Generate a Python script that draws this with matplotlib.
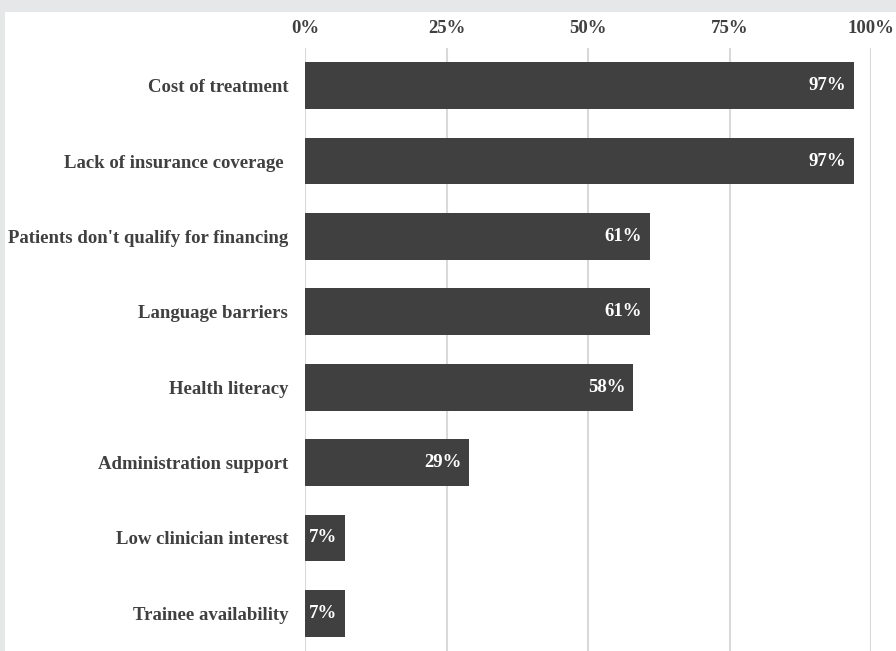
import matplotlib
matplotlib.use("Agg")
import matplotlib.pyplot as plt
from matplotlib.patches import Rectangle

categories = ["Cost of treatment", "Lack of insurance coverage ", "Patients don't qualify for financing",
              "Language barriers", "Health literacy", "Administration support",
              "Low clinician interest", "Trainee availability"]
values = [97, 97, 61, 61, 58, 29, 7, 7]
ticks = [0, 25, 50, 75, 100]
tick_labels = ["0%", "25%", "50%", "75%", "100%"]

plt.rcParams['font.family'] = ['Liberation Serif', 'DejaVu Serif']
W, H = 896, 651
fig = plt.figure(figsize=(W/100, H/100), dpi=100)
fig.patch.set_facecolor('#e6e7e9')
fig.patches.append(Rectangle((5/W, 0), 1 - 5/W, 1 - 12/H, transform=fig.transFigure,
                             facecolor='white', edgecolor='none', zorder=-10))

FS = 13.5
ax = fig.add_axes([305/W, 0, (871-305)/W, 1 - 48/H])
ax.set_facecolor('none')
y = list(range(len(categories)))
ax.barh(y, values, height=0.62, color='#404040', zorder=3)
for yi, v in zip(y, values):
    ax.text(v - 1.4, yi, f"{v}%", ha='right', va='center', color='white',
            fontsize=FS, fontweight='bold', zorder=4)
ax.set_ylim(len(categories) - 0.5, -0.5)
ax.set_xlim(0, 100)
ax.set_yticks(y)
ax.set_yticklabels(categories, fontsize=FS, fontweight='bold', color='#404040')
ax.set_xticks(ticks)
ax.set_xticklabels(tick_labels, fontsize=FS, fontweight='bold', color='#404040')
ax.xaxis.tick_top()
ax.tick_params(axis='x', length=0, pad=8)
ax.tick_params(axis='y', length=0, pad=12)
ax.grid(axis='x', color='#d9d9d9', linewidth=1.5, zorder=0)
ax.set_axisbelow(True)
for s in ax.spines.values():
    s.set_visible(False)
fig.savefig("out.png", dpi=100, facecolor=fig.get_facecolor())
